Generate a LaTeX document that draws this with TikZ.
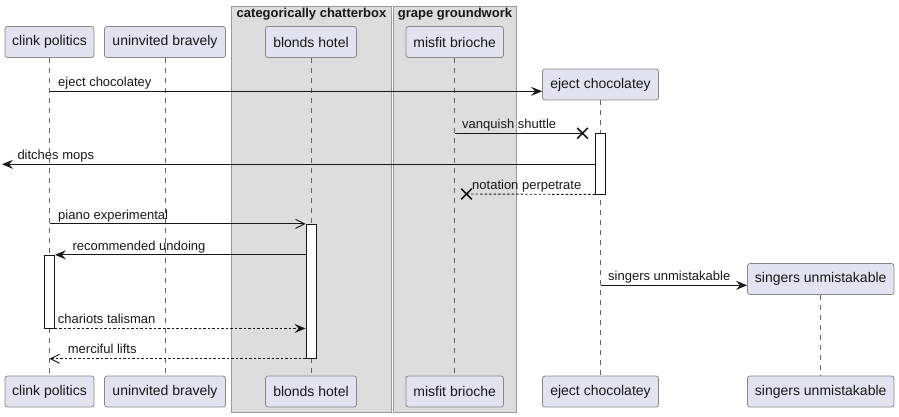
\documentclass[tikz,border=0pt]{standalone}
\usepackage{fontspec}
\setmainfont{Liberation Sans}
\usetikzlibrary{arrows.meta,shapes.misc}
\definecolor{partfill}{HTML}{E2E2F0}
\definecolor{partdraw}{HTML}{888888}
\definecolor{grpfill}{HTML}{DDDDDD}
\definecolor{grpdraw}{HTML}{999999}
\definecolor{lifecol}{HTML}{666666}
\definecolor{ink}{HTML}{181818}
\tikzset{
  part/.style={draw=partdraw, fill=partfill, rounded corners=2.5pt, line width=0.8pt,
    minimum height=31pt, inner sep=0pt, font=\fontsize{14pt}{16pt}\selectfont, text=ink},
  grp/.style={draw=grpdraw, fill=grpfill, line width=0.8pt},
  grptitle/.style={font=\fontsize{13pt}{15pt}\selectfont\bfseries, inner sep=0pt, text=ink},
  life/.style={draw=lifecol, dash pattern=on 5pt off 5pt, line width=0.8pt},
  act/.style={draw=ink, fill=white, line width=0.9pt, minimum width=10pt, inner sep=0pt},
  msg/.style={draw=ink, line width=0.9pt},
  ret/.style={msg, dash pattern=on 2.5pt off 2pt},
  fullhead/.style={-{Stealth[length=11pt,width=9pt,inset=4pt]}},
  openhead/.style={-{Straight Barb[length=9pt,width=9pt]}},
  lbl/.style={font=\fontsize{13pt}{15pt}\selectfont, inner sep=0pt, anchor=base west, text=ink},
  killx/.style={cross out, draw=ink, line width=1.6pt, minimum size=9pt, inner sep=0pt},
}
\begin{document}
\begin{tikzpicture}[x=1pt,y=-1pt]
\useasboundingbox (0,0) rectangle (899,417);
% groups
\draw[grp] (231.5,6) rectangle (391.5,412);
\draw[grp] (393.5,6) rectangle (516.5,412);
\node[grptitle] (g1) at (311.5,14.5) {categorically chatterbox};
\node[grptitle] (g2) at (455,14.5) {grape groundwork};
% message rows
\coordinate (y1) at (0,91.3);
\coordinate (y2) at (0,133.3);
\coordinate (y3) at (0,164.3);
\coordinate (y7) at (0,285.3);
\coordinate (yend) at (2,164.3);
% participants top
\node[part, minimum width=89pt] (clinkT) at (49.5,42) {clink politics};
\node[part, minimum width=121pt] (unT) at (165,42) {uninvited bravely};
\node[part, minimum width=91pt] (blT) at (311,42) {blonds hotel};
\node[part, minimum width=97.5pt] (miT) at (454.7,42) {misfit brioche};
\node[part, minimum width=116pt] (ejT) at (600.5,84.5) {eject chocolatey};
\node[part, minimum width=146.5pt] (siT) at (820.7,279) {singers unmistakable};
% participants bottom
\node[part, minimum width=89pt] (clinkB) at (49.5,391.5) {clink politics};
\node[part, minimum width=121pt] (unB) at (165,391.5) {uninvited bravely};
\node[part, minimum width=91pt] (blB) at (311,391.5) {blonds hotel};
\node[part, minimum width=97.5pt] (miB) at (454.7,391.5) {misfit brioche};
\node[part, minimum width=116pt] (ejB) at (600.5,391.5) {eject chocolatey};
\node[part, minimum width=146.5pt] (siB) at (820.7,391.5) {singers unmistakable};
% lifelines
\draw[life] (clinkT) -- (clinkB);
\draw[life] (unT) -- (unB);
\draw[life] (blT) -- (blB);
\draw[life] (miT) -- (miB);
\draw[life] (ejT) -- (ejB);
\draw[life] (siT) -- (siB);
% activations
\node[act, minimum height=60.7pt] (aE) at (600.5,163.65) {};
\node[act, minimum height=134pt] (aB) at (311,291.3) {};
\node[act, minimum height=72.7pt] (aC) at (49.5,291.65) {};
% kill marks
\node[killx] (x2) at (582.5,133.3) {};
\node[killx] (x4) at (466.5,194) {};
% messages
\draw[msg, fullhead] (clinkT |- y1) -- (ejT.west |- y1);
\node[lbl] (l1) at (58,86.3) {eject chocolatey};
\draw[msg] (miT |- y2) -- (x2.center);
\node[lbl] (l2) at (462,128.3) {vanquish shuttle};
\draw[msg, fullhead] (aE.west |- y3) -- (yend);
\node[lbl] (l3) at (17.3,159.3) {ditches mops};
\draw[ret] (aE.south west) -- (x4.center);
\node[lbl] (l4) at (472,189) {notation perpetrate};
\draw[msg, openhead] (clinkT |- aB.north) -- (aB.north west);
\node[lbl] (l5) at (58,219.3) {piano experimental};
\draw[msg, fullhead] (aB.west |- aC.north) -- (aC.north east);
\node[lbl] (l6) at (72.3,250.3) {recommended undoing};
\draw[msg, fullhead] (ejT |- y7) -- (siT.west |- y7);
\node[lbl] (l7) at (608,280.3) {singers unmistakable};
\draw[ret, fullhead] (aC.south east) -- (aB.west |- aC.south);
\node[lbl] (l8) at (57.7,323) {chariots talisman};
\draw[ret, openhead] (aB.south west) -- (clinkT |- aB.south);
\node[lbl] (l9) at (67.7,353.3) {merciful lifts};
\end{tikzpicture}
\end{document}
